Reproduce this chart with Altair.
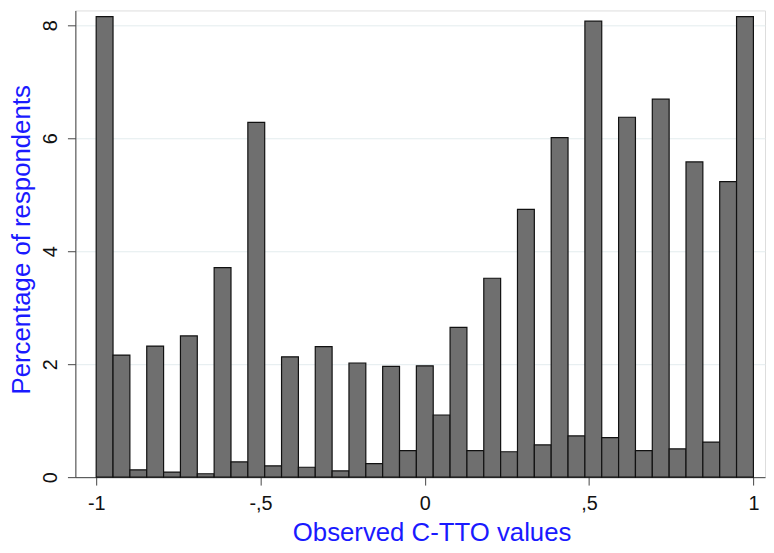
import altair as alt
import pandas as pd

# Histogram of observed C-TTO values: 39 equal bins from -1 to 1
BIN_LOW = -1.0
BIN_HIGH = 1.0
PERCENT = [8.15, 2.16, 0.13, 2.32, 0.09, 2.50, 0.06, 3.71, 0.27, 6.28,
           0.20, 2.13, 0.175, 2.31, 0.11, 2.02, 0.24, 1.96, 0.47, 1.97,
           1.10, 2.65, 0.47, 3.52, 0.45, 4.74, 0.57, 6.01, 0.73, 8.07,
           0.70, 6.37, 0.47, 6.69, 0.50, 5.58, 0.62, 5.23, 8.15]

X_TICKS = [-1, -0.5, 0, 0.5, 1]
X_TICK_LABELS = ["-1", "-,5", "0", ",5", "1"]
Y_TICKS = [0, 2, 4, 6, 8]

X_TITLE = "Observed C-TTO values"
Y_TITLE = "Percentage of respondents"

n = len(PERCENT)
w = (BIN_HIGH - BIN_LOW) / n
df = pd.DataFrame({
    "lo": [BIN_LOW + i * w for i in range(n)],
    "hi": [BIN_LOW + (i + 1) * w for i in range(n)],
    "pct": PERCENT,
})

label_expr = " : ".join(
    f"datum.value == {v} ? '{l}'" for v, l in zip(X_TICKS, X_TICK_LABELS)
) + " : ''"

FONT = "Liberation Sans, Arial, sans-serif"

chart = alt.Chart(df).mark_rect(
    color="#6f6f6f", stroke="#111111", strokeWidth=1.2
).encode(
    x=alt.X("lo:Q",
            scale=alt.Scale(domain=[-1.0633, 1.0353], nice=False, zero=False),
            axis=alt.Axis(values=X_TICKS, labelExpr=label_expr, title=X_TITLE,
                          grid=False, tickSize=8, labelPadding=25,
                          labelBaseline="alphabetic", labelFontSize=20,
                          labelFont=FONT, labelColor="#111111",
                          titleFont=FONT, titleFontSize=26, titleColor="#1a1aff",
                          titleFontWeight="normal", titleX=359.5, titleY=64,
                          titleAlign="center", titleBaseline="alphabetic",
                          domainColor="#444444", tickColor="#444444")),
    x2="hi:Q",
    y=alt.Y("pct:Q",
            scale=alt.Scale(domain=[0, 8.26], nice=False),
            axis=alt.Axis(values=Y_TICKS, title=Y_TITLE, grid=True,
                          gridColor="#e3ecee", gridWidth=1,
                          tickSize=8, labelAngle=270, labelAlign="center",
                          labelBaseline="alphabetic", labelPadding=11,
                          labelFontSize=20, labelFont=FONT, labelColor="#111111",
                          titleFont=FONT, titleFontSize=26, titleColor="#1a1aff",
                          titleFontWeight="normal", titleAngle=270,
                          titleX=-46, titleY=231, titleAlign="center",
                          titleBaseline="alphabetic",
                          domainColor="#444444", tickColor="#444444")),
    y2=alt.datum(0),
).properties(
    width=696,
    height=471,
    autosize=alt.AutoSizeParams(type="none"),
    padding={"left": 68, "top": 0, "right": 1, "bottom": 66},
).configure_view(
    stroke="#8a8a8a", strokeWidth=1
).configure(background="white")

chart.save("out.html", embed_options={"renderer": "svg", "actions": False})
